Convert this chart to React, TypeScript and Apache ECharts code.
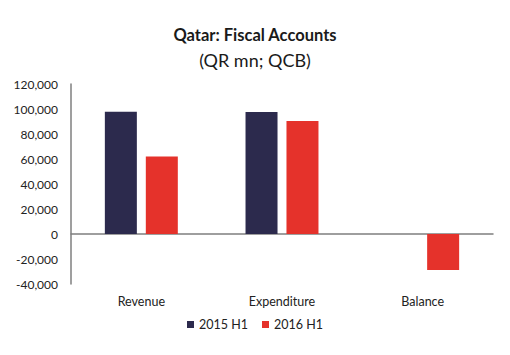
import React, { useEffect, useRef } from "react";
import * as echarts from "echarts";

const categories = ["Revenue", "Expenditure", "Balance"];
const series2015 = [97800, 97600, 0];
const series2016 = [62000, 90500, -28800];
const seriesNames = ["2015 H1", "2016 H1"];
const FONT = "Lato, 'Open Sans', sans-serif";

export default function App() {
  const ref = useRef<HTMLDivElement>(null);
  useEffect(() => {
    const chart = echarts.init(ref.current!, null, { renderer: "svg" });
    chart.setOption({
      animation: false,
      backgroundColor: "#ffffff",
      title: {
        text: "Qatar: Fiscal Accounts",
        subtext: "(QR mn; QCB)",
        left: "center",
        top: 13,
        itemGap: 8,
        textStyle: { fontFamily: FONT, fontSize: 16.5, fontWeight: "bold", color: "#1a1a1a" },
        subtextStyle: { fontFamily: FONT, fontSize: 18, color: "#1a1a1a" },
      },
      legend: {
        bottom: 11,
        left: "center",
        itemWidth: 7,
        itemHeight: 7,
        itemGap: 14,
        icon: "rect",
        textStyle: { fontFamily: FONT, fontSize: 12.5, color: "#222" },
        data: seriesNames,
      },
      grid: { left: 63, right: 9, top: 76, bottom: 63, containLabel: false },
      xAxis: {
        type: "category",
        data: categories,
        axisLine: { onZero: true, lineStyle: { color: "#7f7f7f", width: 1.5 } },
        axisTick: { show: false },
        axisLabel: {
          fontFamily: FONT,
          fontSize: 12.5,
          color: "#222",
          margin: 11,
        },
        position: "bottom",
      },
      yAxis: {
        type: "value",
        min: -40000,
        max: 120000,
        interval: 20000,
        splitLine: { show: false },
        axisLine: { show: true, lineStyle: { color: "#7f7f7f", width: 1.5 } },
        axisTick: { show: false },
        axisLabel: {
          fontFamily: FONT,
          fontSize: 12,
          color: "#222",
          margin: 13,
          formatter: (v: number) => v.toLocaleString("en-US"),
        },
      },
      series: [
        {
          name: seriesNames[0],
          type: "bar",
          data: series2015,
          barWidth: 32,
          barGap: "28%",
          itemStyle: { color: "#2c2a4d" },
        },
        {
          name: seriesNames[1],
          type: "bar",
          data: series2016,
          barWidth: 32,
          barGap: "28%",
          itemStyle: { color: "#e5322b" },
        },
      ],
    });
    return () => chart.dispose();
  }, []);
  return <div ref={ref} style={{ width: 494, height: 339 }} />;
}
